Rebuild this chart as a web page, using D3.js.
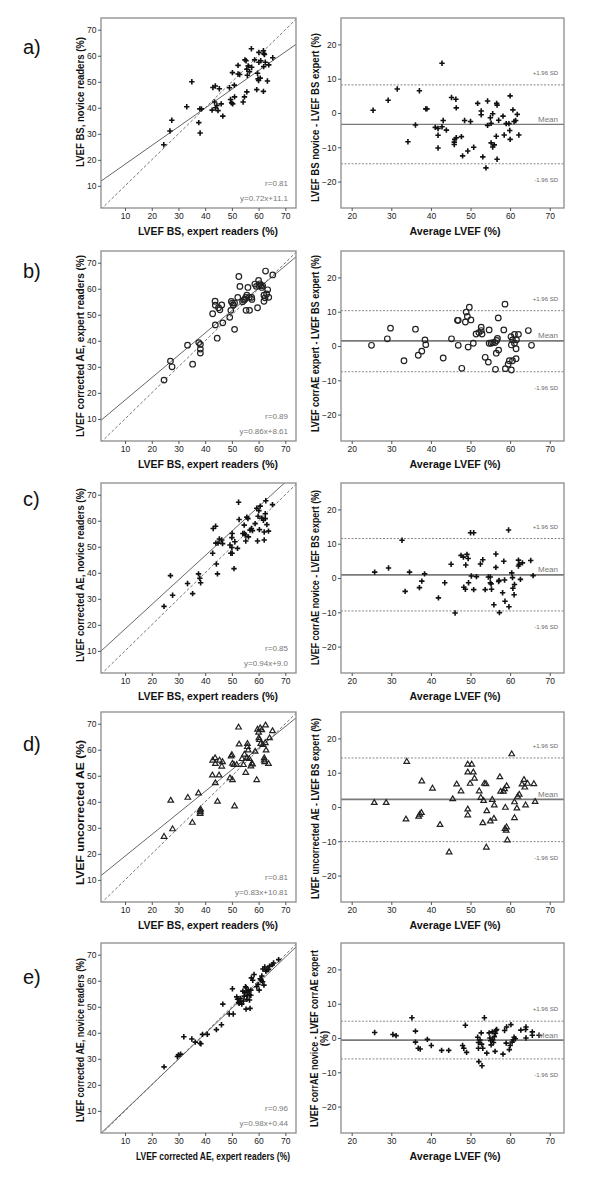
<!DOCTYPE html>
<html><head><meta charset="utf-8">
<script src="https://cdn.jsdelivr.net/npm/d3@7"></script>
<style>body{margin:0;background:#fff}svg{display:block}text{font-family:Arial,"Liberation Sans",sans-serif}</style>
</head><body><svg id="c" width="600" height="1183"></svg>
<script>
// ---------- data ----------
const panelLabels = ["a)", "b)", "c)", "d)", "e)"];
const scatterTicks = [10, 20, 30, 40, 50, 60, 70];
const baXTicks = [20, 30, 40, 50, 60, 70];
const baYTicks = [-20, -10, 0, 10, 20];
const markers = ["plus", "circle", "plus", "triangle", "plus"];

const scatterXTitles = ["LVEF BS, expert readers (%)", "LVEF BS, expert readers (%)", "LVEF BS, expert readers (%)", "LVEF BS, expert readers (%)", "LVEF corrected AE, expert readers (%)"];
const scatterYTitles = ["LVEF BS, novice readers (%)", "LVEF corrected AE, expert readers (%)", "LVEF corrected AE, novice readers (%)", "LVEF uncorrected AE (%)", "LVEF corrected AE, novice readers (%)"];
const baXTitle = "Average LVEF (%)";
const baYTitles = [["LVEF BS novice - LVEF BS expert (%)"], ["LVEF corrAE expert - LVEF BS expert (%)"], ["LVEF corrAE novice - LVEF BS expert (%)"], ["LVEF uncorrected AE - LVEF BS expert (%)"], ["LVEF corrAE novice - LVEF corrAE expert", "(%)"]];

const regSlope = [0.72, 0.86, 0.94, 0.83, 0.98];
const regIntercept = [11.1, 8.61, 9.0, 10.81, 0.44];
const rTexts = ["r=0.81", "r=0.89", "r=0.85", "r=0.81", "r=0.96"];
const eqTexts = ["y=0.72x+11.1", "y=0.86x+8.61", "y=0.94x+9.0", "y=0.83x+10.81", "y=0.98x+0.44"];

const baMean = [-3.3, 1.5, 0.9, 2.2, -0.6];
const baUpper = [8.2, 10.3, 11.5, 14.3, 4.9];
const baLower = [-14.8, -7.5, -9.6, -10.1, -6.1];

const aScatter = [[24.5,25.8],[26.8,31.1],[27.5,35.2],[33.1,40.4],[35,50],[37.6,34.3],[38,39.6],[38.6,39.6],[38.1,30.3],[42.9,47.8],[43.8,48.4],[42.6,39.1],[43.5,42.2],[43.9,40],[44.4,40.9],[44.8,38.9],[45.3,47.3],[46,41.5],[46.6,36.8],[49.1,47.7],[49.5,43.2],[49.9,41.9],[50.3,41.5],[50.2,53.5],[50.9,48.7],[51,44.2],[52.3,56.3],[52.3,53],[52.9,52.8],[54.2,42.2],[54.7,44.2],[54.9,58.4],[55.3,58.1],[55.6,46.1],[55.6,54.8],[55.8,52.5],[56.1,56.1],[56.6,53.9],[57.3,62.7],[57.4,55.6],[58.5,58.4],[59.3,47],[59.6,53.3],[59.8,51.1],[60,50.5],[60.1,61.3],[60.1,57.5],[60.6,51.4],[60.8,58.1],[61.8,61.9],[61.9,55.8],[61.8,46.3],[62.2,60.5],[62.5,57.5],[63.3,50.3],[63.8,56.5],[65.3,59.2],[62,60.8]];
const aBA = [[25.4,0.8],[29.2,3.7],[31.5,7],[34.2,-8.4],[36.1,-3.5],[37.1,6.5],[38.7,1.2],[39,1.2],[41.1,-4.2],[41.8,-4.5],[41.8,-6.5],[41.8,-10.2],[42.8,14.5],[42.8,-4],[43.1,-2.2],[43.9,-5],[45.2,4.5],[46.3,4],[46.4,1.5],[46,-7.7],[45.9,-8.5],[45.9,-9.2],[46.4,-7.2],[47.7,-6.9],[48,-12.5],[48.5,-2.2],[49.3,-11.1],[50,-2.5],[50.8,-10],[51.8,2.8],[52.7,0.6],[52.7,-0.5],[53.1,-12.8],[53.9,-16],[54.3,3.5],[54.3,-3.6],[55,-1.4],[55.2,-3],[55.2,-8.7],[55.6,-9.9],[56,-9.3],[55.6,-0.2],[56.6,2.8],[56.7,2.3],[56.5,-6.8],[56.7,-13.5],[57.1,-2.1],[58.2,-0.9],[58.5,-6.4],[59,-3.1],[59.7,-3.1],[60,5],[59.9,-5.1],[60,-7.7],[60.7,0.9],[61,-2.5],[61.4,-2.2],[61.8,-0.4],[62.2,-6.4]];

const bScatter = [[24.6,24.9],[27,32.2],[27.6,30],[33.4,38.3],[35.3,31],[37.6,39.3],[38.2,38.6],[38.2,36.8],[38.2,35.3],[42.8,50.4],[43.7,55.2],[43.8,53.7],[43.8,46.1],[44.5,41],[45,52.7],[45.5,51.9],[46.2,53.8],[46.6,46.9],[49.2,49],[49.6,51.7],[49.8,55.1],[50.2,54.5],[50.5,53.8],[51,54.5],[51,44.4],[52.2,56.7],[52.6,64.7],[53,60.9],[54,55],[54.5,55.6],[54.9,56],[55.2,56.7],[55.3,51.7],[55.6,57.5],[56,60.5],[56.6,51.7],[56.5,56.7],[57.4,56.7],[57.5,55.9],[58.6,61.8],[59.2,60.9],[59.6,52.7],[60,63.2],[60.1,61.2],[60.5,61.9],[60.8,61.2],[61.2,60.5],[61.5,61.2],[62,57.5],[62,55.2],[62.4,56.5],[62.6,66.8],[63,58],[63.4,59.6],[63.8,56.7],[65.3,65.3]];
const bBA = [[25,0.2],[29,2.1],[29.8,5.2],[33.2,-4.3],[36.1,4.9],[36.8,-2.7],[37.7,-1.5],[38.5,1.8],[38.7,0.4],[43.1,-3.5],[45.2,2.1],[46.7,7.5],[46.9,7.5],[46.9,0.2],[47.8,-6.5],[48.7,7],[48.9,9.9],[49.2,8.6],[49.4,-0.3],[49.7,11.3],[50.1,7.6],[50.7,0.8],[51.4,3.5],[52.1,3.9],[52.7,5.5],[52.7,4.5],[52.9,3.5],[53.7,-3.3],[54.5,-4.7],[54.7,4.7],[54.7,0.8],[55.2,0.8],[55.6,1],[56.2,1],[56.3,-6.8],[56.5,-2.1],[56.6,1.6],[56.8,2.2],[57,8.2],[57.1,-1.2],[58.4,4.7],[58.7,12.2],[58.8,-6.6],[59.5,-5.3],[59.8,-4.3],[60.2,2.7],[60.3,0.3],[60.3,-7],[60.6,1.8],[60.6,-4.3],[61.1,3.4],[61.1,0.8],[61.5,-0.8],[61.5,-3.7],[61.6,1.8],[62.1,3.4],[64.6,4.5],[65.4,0.2]];

const cScatter = [[24.6,27.1],[27,38.9],[27.8,31.4],[33.4,35.9],[35.3,32],[37.5,39.6],[38,37.9],[38.3,36.2],[42.8,47.5],[43,57],[43.9,57.9],[44,51.4],[44.2,43.4],[44.6,39.6],[44.8,51.4],[45.3,53],[46.2,52.6],[46.5,51.2],[49.3,50.7],[49.6,47.5],[50.1,47.5],[50,49.7],[50,53.5],[50.1,55.1],[50.8,41.6],[51.1,51.9],[52.1,49.4],[52.5,67.1],[52.7,60.5],[54.1,55.1],[54.6,58.3],[54.7,55.1],[55,54.5],[55.2,52.2],[55.6,61.4],[56,60.8],[56.2,53.8],[56.8,56.4],[57.3,57],[57.7,56.2],[58.7,58.9],[59.3,64.8],[59.6,52.2],[59.8,61.7],[60.1,63.9],[60.3,56.6],[60.6,65.6],[61.2,61],[61.8,60.2],[62.1,55.7],[62.1,52.6],[62.5,60.8],[62.5,62.7],[62.7,67.7],[63.1,58.5],[63.7,56],[65.2,66.2]];
const cBA = [[25.8,1.7],[29.3,2.9],[32.7,11],[33.5,-3.9],[34.6,1.7],[37.1,-2.8],[37.7,-0.9],[38.4,1.2],[41.9,-5.8],[43.5,-1.4],[45.1,4],[46.1,-10.2],[47.6,6.6],[48.2,6.1],[48.8,3.8],[49.1,6.9],[49.4,5.7],[49.5,-1.4],[48.3,-2.7],[48.7,-3.3],[50,13.2],[50.8,13.2],[50.2,0.6],[51.5,0.4],[50.8,-3.4],[52.5,4.1],[53.1,5.3],[53.7,-3.4],[54.5,0.3],[55,0.3],[55,-1.4],[55.2,-1.7],[55.3,-3.3],[55.9,-7.8],[56.4,7],[56.4,3.1],[57.1,-1],[57.2,-0.7],[57.3,-10.1],[58.1,-4.3],[58.4,4.9],[58.6,-0.6],[58.7,-6.8],[59.6,14],[59.7,-8.4],[60.4,1.5],[60.6,0.1],[60.7,-3],[61,-4.9],[61.1,-1.9],[62.1,5.2],[62.1,3.5],[62.3,4],[62.6,-0.4],[63.1,4.4],[65.2,5.1],[65.8,0.7]];

const dScatter = [[24.6,26.7],[27.1,40.6],[27.8,29.6],[33.5,41.7],[35.2,32.1],[37.5,43.4],[38.1,36.8],[38.2,36.2],[38.3,37.2],[38.1,35.5],[42.7,50.3],[42.8,56],[43.7,56.9],[43.8,54.7],[43.8,47.3],[44.6,40.2],[45.2,50.3],[45.4,56],[46.2,53.7],[46.5,55.4],[49.3,49.2],[49.7,57.6],[50,58.1],[50.2,54.8],[50.2,48.5],[50.8,54.3],[51,38.4],[51.8,54.3],[52.5,68.7],[52.7,62.2],[53.8,56.6],[54.3,54.3],[54.7,58.3],[55.2,51.3],[55.6,57],[55.8,62.4],[55.8,61.2],[56.1,59.9],[56.5,56.6],[57.1,53.8],[57.5,54.8],[57.7,54.5],[58.7,59.4],[59.3,48.5],[59.6,67.9],[60,66.7],[60.1,64.6],[60.3,63.9],[60.6,68.4],[60.8,62.4],[61.2,67.7],[61.6,62],[62.1,56.9],[62.1,56.1],[62.3,55.4],[62.5,62.7],[62.6,69.5],[62.8,59.9],[63.7,54.7],[64.1,64.6],[65.2,67.3]];
const dBA = [[25.7,1.3],[28.7,1.3],[33.9,13.3],[33.7,-3.5],[36.9,-2.7],[37.2,-2.1],[37.6,-1.6],[37.7,7.6],[40.4,5.5],[42.3,-5.1],[44.6,-13.1],[45.5,2.4],[46.5,6.7],[47.6,4.7],[49.3,12.5],[50.3,12.5],[49.3,10.2],[50.7,10.2],[51,8.4],[49.9,6.9],[49.3,-0.6],[49.3,-2.3],[52.2,4.7],[52.6,2.8],[53.3,1.9],[53.1,-4.6],[53.5,6.9],[53.9,6.8],[54.1,-1.1],[54,-11.7],[55,-4.1],[55.5,2.2],[56,0.6],[55.9,-3.3],[57.4,8.8],[57.6,4.6],[58.3,4.6],[58.6,5.3],[59.1,6.2],[58.8,-0.1],[58.7,-6.3],[59,-6.8],[59.1,-5.8],[59.3,-9.6],[60.4,15.5],[61.1,1.5],[61.1,-3.1],[61.7,-0.3],[61.9,3.1],[62.3,3.7],[63,6.7],[63.5,8],[63.7,5.8],[63.9,0.6],[64.4,6.9],[66,6.8],[66.3,1.6]];

const eScatter = [[24.6,26.9],[29.6,30.9],[30,31.5],[30.8,31.8],[32,38.5],[35,37.6],[36.3,36.4],[38.1,36],[38.4,35.8],[39,39.4],[40.8,39.4],[44.2,41.2],[46.1,43.1],[46.6,51],[49,47.2],[50.5,47.2],[50.2,56.9],[51.8,53.8],[52.1,52.9],[52.5,51.6],[52.7,51.3],[53.1,53.2],[53.3,52.1],[53.7,51],[54.1,56],[54.3,52.2],[54.6,54.1],[54.8,55.4],[55.1,57.7],[55.3,57.3],[55.3,49.1],[55.6,52.9],[55.8,54.4],[56,55.9],[56.2,56.4],[56.5,54.6],[56.6,52.6],[56.8,49.4],[57.1,56.4],[57.1,54.4],[57.3,61.1],[57.8,60.2],[58.3,62.4],[59.3,57.7],[59.8,58.6],[60.2,56.4],[60.6,60.7],[61,60.2],[61.2,61.8],[61.5,59.6],[61.6,64.5],[62,58.3],[62.3,65.3],[62.7,63.7],[63.1,64.3],[63.7,64.3],[64.1,65.6],[65.1,66.2],[65.6,66.8],[67.5,68.1]];
const eBA = [[25.8,1.6],[30.4,1],[31.2,0.7],[35.2,5.9],[36.1,2],[36.1,-1.2],[36.8,-3],[37.3,-3.2],[39.1,-0.4],[40.1,-2.2],[42.7,-3.6],[44.5,-3.6],[48,-2.2],[48.3,-3],[48.7,3.7],[49,-4.2],[51.8,0.2],[52,-1.3],[52,-3],[52.1,-6.9],[52.4,-0.6],[52.7,1.5],[52.9,-8.1],[52.8,-1.8],[53.1,-3],[53.5,5.9],[54.1,-4.4],[54.7,1.5],[54.9,0],[55.1,-0.8],[55.2,-2],[55.5,1.8],[55.6,-0.5],[55.8,-1.3],[56,0.4],[56.2,-3.9],[56.3,1.4],[56.4,2.2],[56.6,2.5],[58.2,-4.7],[58.6,2.2],[59,-1.5],[59.1,3.2],[59.8,-3.4],[60,-2.2],[60.2,3.9],[60.5,-1.2],[60.8,-0.5],[61,0.2],[61.3,-0.2],[62.7,2.3],[63.9,2.5],[64,0],[64,3.2],[65.6,1.8],[65.6,0.8],[67.3,0.8]];

const scatterData = [aScatter, bScatter, cScatter, dScatter, eScatter];
const baData = [aBA, bBA, cBA, dBA, eBA];

// ---------- layout ----------
const rowTop = [18, 251, 483, 712, 943];
const H = 190;
const LX0 = 101, LX1 = 296, RX0 = 341, RX1 = 564;
const labelCY = [47, 271, 499, 744, 977];
const leftYTitleSpan = [[37,167],[255,437],[488,662],[740,885],[958,1122]];
const rightYTitleSpan = [[33,202],[255,432],[490,665],[718,899],[950,1127]];

const svg = d3.select("#c");
const FRAME = "#8c8c8c", TICKTXT = "#222";

function marker(g, type, x, y) {
  if (type === "plus") {
    g.append("path").attr("d", `M${x-2.7},${y}H${x+2.7}M${x},${y-2.7}V${y+2.7}`)
      .attr("stroke", "#111").attr("stroke-width", 1.6).attr("fill", "none");
  } else if (type === "circle") {
    g.append("circle").attr("cx", x).attr("cy", y).attr("r", 2.8)
      .attr("stroke", "#222").attr("stroke-width", 1.2).attr("fill", "none");
  } else {
    g.append("path").attr("d", `M${x},${y-2.9}L${x+2.8},${y+1.9}L${x-2.8},${y+1.9}Z`)
      .attr("stroke", "#222").attr("stroke-width", 1.2).attr("fill", "none");
  }
}

function styleAxis(g) {
  g.select(".domain").remove();
  g.selectAll(".tick line").attr("stroke", "#555");
  g.selectAll(".tick text").attr("fill", TICKTXT).attr("font-size", "8.5px").attr("font-family", "Arial, 'Liberation Sans', sans-serif");
}

function rotLabel(x, cy, span, txt, size) {
  svg.append("text").attr("transform", `translate(${x},${cy}) rotate(-90)`)
    .attr("text-anchor", "middle").attr("font-size", size || "10px").attr("font-weight", "bold").attr("fill", "#111")
    .attr("textLength", span).attr("lengthAdjust", "spacingAndGlyphs").text(txt);
}

for (let i = 0; i < 5; i++) {
  const top = rowTop[i], bot = top + H;

  svg.append("text").attr("x", 23).attr("y", labelCY[i] + 7).attr("font-size", "20px").attr("fill", "#111").text(panelLabels[i]);

  // ---- scatter panel ----
  const x = d3.scaleLinear().domain([1, 74]).range([LX0, LX1]);
  const y = d3.scaleLinear().domain([1.5, 74.5]).range([bot, top]);
  const clipId = "clipL" + i;
  svg.append("clipPath").attr("id", clipId).append("rect").attr("x", LX0).attr("y", top).attr("width", LX1 - LX0).attr("height", H);
  const gl = svg.append("g");
  const lines = gl.append("g").attr("clip-path", `url(#${clipId})`);
  lines.append("line").attr("x1", x(1)).attr("y1", y(1)).attr("x2", x(75)).attr("y2", y(75))
    .attr("stroke", "#777").attr("stroke-width", 1).attr("stroke-dasharray", "3,2");
  const s = regSlope[i], b = regIntercept[i];
  lines.append("line").attr("x1", x(1)).attr("y1", y(s * 1 + b)).attr("x2", x(74)).attr("y2", y(s * 74 + b))
    .attr("stroke", "#666").attr("stroke-width", 1);
  scatterData[i].forEach(d => marker(gl, markers[i], x(d[0]), y(d[1])));
  gl.append("rect").attr("x", LX0).attr("y", top).attr("width", LX1 - LX0).attr("height", H)
    .attr("fill", "none").attr("stroke", FRAME).attr("stroke-width", 1.3);
  const xa = gl.append("g").attr("transform", `translate(0,${bot})`).call(d3.axisBottom(x).tickValues(scatterTicks).tickSize(3).tickPadding(2));
  styleAxis(xa);
  const ya = gl.append("g").attr("transform", `translate(${LX0},0)`).call(d3.axisLeft(y).tickValues(scatterTicks).tickSize(3).tickPadding(1.5));
  styleAxis(ya);
  gl.append("text").attr("x", LX1 - 8).attr("y", bot - 22).attr("text-anchor", "end").attr("font-size", "8px").attr("fill", "#777").text(rTexts[i]);
  gl.append("text").attr("x", LX1 - 8).attr("y", bot - 7).attr("text-anchor", "end").attr("font-size", "8px").attr("fill", "#777").text(eqTexts[i]);
  const xtLen = i === 4 ? 154 : 140;
  svg.append("text").attr("x", i === 4 ? 213 : 208).attr("y", bot + 27).attr("text-anchor", "middle").attr("font-size", "10px").attr("font-weight", "bold").attr("fill", "#111")
    .attr("textLength", xtLen).attr("lengthAdjust", "spacingAndGlyphs").text(scatterXTitles[i]);
  const ls = leftYTitleSpan[i];
  rotLabel(84, (ls[0] + ls[1]) / 2, ls[1] - ls[0], scatterYTitles[i]);

  // ---- Bland-Altman panel ----
  const bx = d3.scaleLinear().domain([17.3, 73.6]).range([RX0, RX1]);
  const by = d3.scaleLinear().domain([-27.7, 27.7]).range([bot, top]);
  const gr = svg.append("g");
  gr.append("line").attr("x1", RX0).attr("x2", RX1).attr("y1", by(baUpper[i])).attr("y2", by(baUpper[i]))
    .attr("stroke", "#888").attr("stroke-width", 1).attr("stroke-dasharray", "2,1.5");
  gr.append("line").attr("x1", RX0).attr("x2", RX1).attr("y1", by(baLower[i])).attr("y2", by(baLower[i]))
    .attr("stroke", "#888").attr("stroke-width", 1).attr("stroke-dasharray", "2,1.5");
  gr.append("line").attr("x1", RX0).attr("x2", RX1).attr("y1", by(baMean[i])).attr("y2", by(baMean[i]))
    .attr("stroke", "#7a7a7a").attr("stroke-width", i === 0 ? 1.2 : 1.7);
  baData[i].forEach(d => marker(gr, markers[i], bx(d[0]), by(d[1])));
  gr.append("rect").attr("x", RX0).attr("y", top).attr("width", RX1 - RX0).attr("height", H)
    .attr("fill", "none").attr("stroke", FRAME).attr("stroke-width", 1.3);
  gr.append("text").attr("x", RX1 - 6).attr("y", by(baUpper[i]) - 10).attr("text-anchor", "end").attr("font-size", "6px").attr("fill", "#666").text("+1.96 SD");
  gr.append("text").attr("x", RX1 - 6).attr("y", by(baMean[i]) - 2.5).attr("text-anchor", "end").attr("font-size", "8px").attr("fill", "#777").text("Mean");
  gr.append("text").attr("x", RX1 - 6).attr("y", by(baLower[i]) + 18).attr("text-anchor", "end").attr("font-size", "6px").attr("fill", "#666").text("-1.96 SD");
  const bxa = gr.append("g").attr("transform", `translate(0,${bot})`).call(d3.axisBottom(bx).tickValues(baXTicks).tickSize(3).tickPadding(2));
  styleAxis(bxa);
  const bya = gr.append("g").attr("transform", `translate(${RX0},0)`).call(d3.axisLeft(by).tickValues(baYTicks).tickSize(3).tickPadding(1.5));
  styleAxis(bya);
  svg.append("text").attr("x", 455).attr("y", bot + 27).attr("text-anchor", "middle").attr("font-size", "10px").attr("font-weight", "bold").attr("fill", "#111")
    .attr("textLength", 91).attr("lengthAdjust", "spacingAndGlyphs").text(baXTitle);
  const rs = rightYTitleSpan[i];
  const t = baYTitles[i];
  if (t.length === 1) {
    rotLabel(319, (rs[0] + rs[1]) / 2, rs[1] - rs[0], t[0]);
  } else {
    rotLabel(318, (rs[0] + rs[1]) / 2, rs[1] - rs[0], t[0]);
    svg.append("text").attr("transform", `translate(328,${(rs[0] + rs[1]) / 2}) rotate(-90)`)
      .attr("text-anchor", "middle").attr("font-size", "10px").attr("font-weight", "bold").attr("fill", "#111").text(t[1]);
  }
}
</script></body></html>
